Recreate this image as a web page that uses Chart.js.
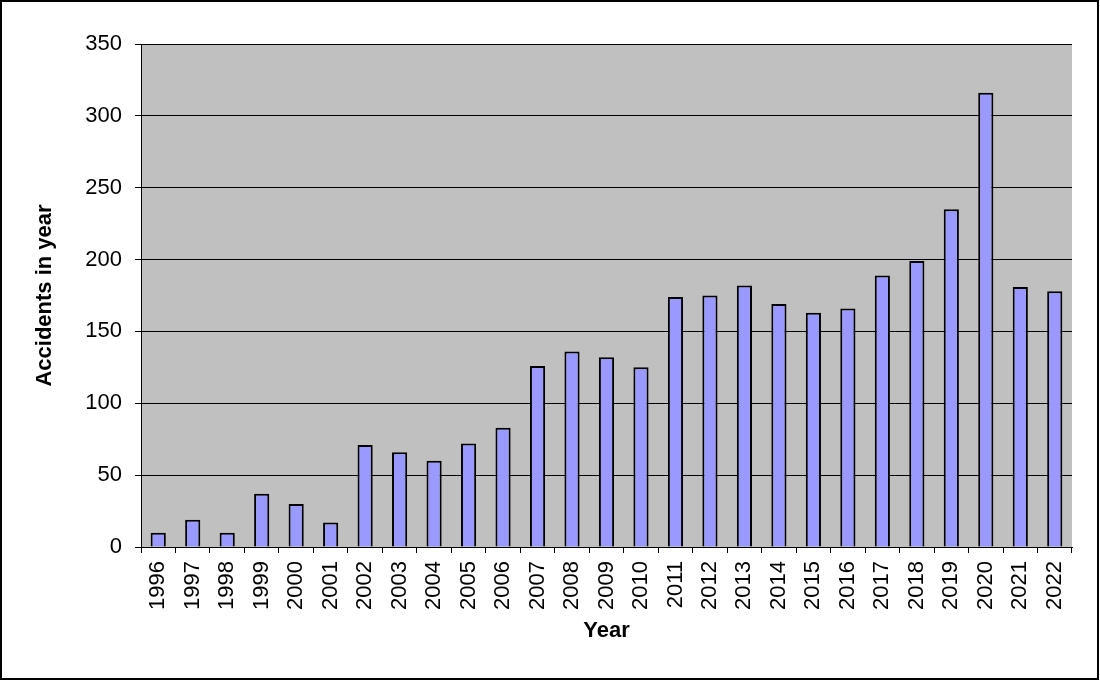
<!DOCTYPE html>
<html>
<head>
<meta charset="utf-8">
<script src="https://cdn.jsdelivr.net/npm/chart.js@4"></script>
<style>
  html, body { margin: 0; padding: 0; background: #fff; }
  canvas { display: block; }
</style>
</head>
<body>
<canvas id="c" width="1100" height="680"></canvas>
<script>
const years = ['1996','1997','1998','1999','2000','2001','2002','2003','2004','2005','2006','2007','2008','2009','2010','2011','2012','2013','2014','2015','2016','2017','2018','2019','2020','2021','2022'];
const accidents = [10,19,10,37,30,17,71,66,60,72,83,126,136,132,125,174,175,182,169,163,166,189,199,235,316,181,178];
const yTicks = [0,50,100,150,200,250,300,350];
const yTitle = 'Accidents in year';
const xTitle = 'Year';

const FONT = '"Liberation Sans", Arial, sans-serif';

const bgPlugin = {
  id: 'bg',
  beforeDraw(chart) {
    const {ctx, chartArea: a} = chart;
    ctx.save();
    ctx.fillStyle = '#fff';
    ctx.fillRect(0, 0, chart.width, chart.height);
    ctx.fillStyle = '#C0C0C0';
    ctx.fillRect(a.left, a.top, a.right - a.left, a.bottom - a.top);
    ctx.restore();
  },
  afterDraw(chart) {
    const {ctx} = chart;
    ctx.save();
    ctx.strokeStyle = '#000';
    ctx.lineWidth = 2;
    ctx.strokeRect(1, 1, chart.width - 3, chart.height - 2);
    ctx.restore();
  }
};

new Chart(document.getElementById('c'), {
  type: 'bar',
  data: {
    labels: years,
    datasets: [{
      data: accidents,
      backgroundColor: '#9999FF',
      borderColor: '#000',
      borderWidth: 2,
      categoryPercentage: 1,
      barPercentage: 0.44
    }]
  },
  options: {
    responsive: false,
    animation: false,
    devicePixelRatio: 1,
    layout: { padding: { top: 44, right: 28, left: 0, bottom: 0 } },
    plugins: { legend: { display: false }, tooltip: { enabled: false } },
    scales: {
      x: {
        afterFit(s) { s.height = 680 - 547; },
        grid: { display: true, drawOnChartArea: false, drawTicks: true, tickLength: 6, color: '#000', offset: true },
        border: { display: true, color: '#000', width: 1 },
        ticks: {
          autoSkip: false, minRotation: 90, maxRotation: 90, padding: 8,
          color: '#000', font: { family: FONT, size: 22 }
        },
        title: {
          display: true, text: xTitle, color: '#000',
          font: { family: FONT, size: 22, weight: 'bold' },
          padding: { top: 0, bottom: 36 }
        }
      },
      y: {
        min: 0, max: 350,
        afterFit(s) { s.width = 141; },
        afterBuildTicks(s) { s.ticks = yTicks.map(v => ({ value: v })); },
        grid: { color: '#000', lineWidth: 1, drawTicks: true, tickLength: 6 },
        border: { display: true, color: '#000', width: 1 },
        ticks: {
          padding: 13, color: '#000', font: { family: FONT, size: 22 }
        },
        title: {
          display: true, text: yTitle, color: '#000',
          font: { family: FONT, size: 22, weight: 'bold' },
          padding: { top: 32, bottom: 0 }
        }
      }
    }
  },
  plugins: [bgPlugin]
});
</script>
</body>
</html>
